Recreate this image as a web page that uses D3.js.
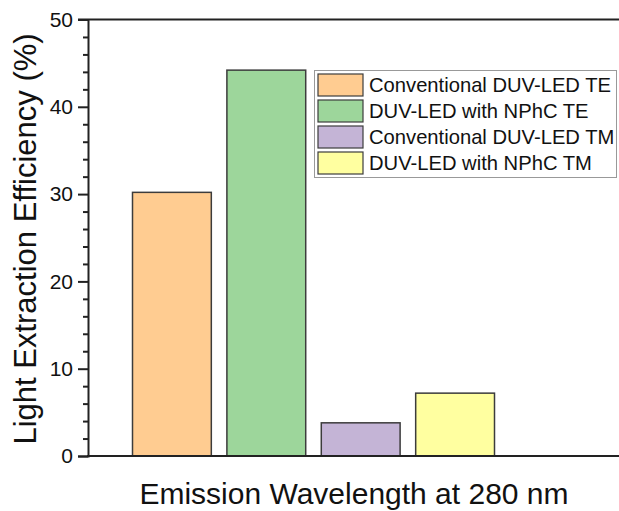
<!DOCTYPE html>
<html>
<head>
<meta charset="utf-8">
<script src="https://cdn.jsdelivr.net/npm/d3@7/dist/d3.min.js"></script>
<style>
  body { margin: 0; background: #fff; }
  svg { display: block; font-family: "Liberation Sans", Arial, sans-serif; }
</style>
</head>
<body>
<svg id="chart"></svg>
<script>
"use strict";

// data
const seriesNames = [
  "Conventional DUV-LED TE",
  "DUV-LED with NPhC TE",
  "Conventional DUV-LED TM",
  "DUV-LED with NPhC TM"
];
const seriesValues = [30.2, 44.2, 3.8, 7.2];
const seriesColors = ["#ffcc91", "#9dd69b", "#c4b4d6", "#ffffa0"];
const yTicks = [0, 10, 20, 30, 40, 50];
const yMinorTicks = d3.range(0, 51, 2).filter(v => v % 10 !== 0);

const svgWidth = 619, svgHeight = 511;
const plotLeft = 88, plotTop = 19.5, plotBottom = 456, plotRight = 619;

const svg = d3.select("#chart")
  .attr("width", svgWidth)
  .attr("height", svgHeight);

svg.append("rect")
  .attr("width", svgWidth).attr("height", svgHeight)
  .attr("fill", "#fff");

// scales
const yScale = d3.scaleLinear().domain([0, 50]).range([plotBottom, plotTop]);
const xScale = d3.scaleBand()
  .domain(seriesNames)
  .range([132.5, 494.5])
  .paddingInner(0.165)
  .paddingOuter(0);

const bars = seriesNames.map((name, i) => ({ name, value: seriesValues[i], color: seriesColors[i] }));

// bars
svg.selectAll("rect.bar")
  .data(bars)
  .enter()
  .append("rect")
  .attr("class", "bar")
  .attr("x", d => xScale(d.name))
  .attr("y", d => yScale(d.value))
  .attr("width", xScale.bandwidth())
  .attr("height", d => yScale(0) - yScale(d.value))
  .attr("fill", d => d.color)
  .attr("stroke", "#3c3c3c")
  .attr("stroke-width", 1.5);

// frame lines: top and bottom
const frame = svg.append("g").attr("stroke", "#222").attr("stroke-width", 2);
frame.append("line").attr("x1", plotLeft - 10).attr("x2", plotRight).attr("y1", plotTop).attr("y2", plotTop);
frame.append("line").attr("x1", plotLeft - 1).attr("x2", plotRight).attr("y1", plotBottom).attr("y2", plotBottom);

// y axis with major + minor ticks
const yAxis = d3.axisLeft(yScale)
  .tickValues(yTicks)
  .tickSize(10)
  .tickPadding(5)
  .tickFormat(d3.format("d"));

const yAxisG = svg.append("g")
  .attr("transform", `translate(${plotLeft},0)`)
  .call(yAxis);
yAxisG.select(".domain").attr("stroke", "#222").attr("stroke-width", 2);
yAxisG.selectAll(".tick line").attr("stroke", "#222").attr("stroke-width", 2);
yAxisG.selectAll(".tick text")
  .attr("font-size", 21)
  .attr("font-family", "Liberation Sans, Arial, sans-serif")
  .attr("fill", "#111");

const yMinor = d3.axisLeft(yScale)
  .tickValues(yMinorTicks)
  .tickSize(5)
  .tickFormat("");
const yMinorG = svg.append("g")
  .attr("transform", `translate(${plotLeft},0)`)
  .call(yMinor);
yMinorG.select(".domain").remove();
yMinorG.selectAll(".tick line").attr("stroke", "#222").attr("stroke-width", 2);

// axis titles
svg.append("text")
  .attr("transform", "rotate(-90)")
  .attr("x", -239)
  .attr("y", 36)
  .attr("text-anchor", "middle")
  .attr("font-size", 31)
  .attr("fill", "#111")
  .text("Light Extraction Efficiency (%)");

svg.append("text")
  .attr("x", 354)
  .attr("y", 504)
  .attr("text-anchor", "middle")
  .attr("font-size", 30)
  .attr("fill", "#111")
  .text("Emission Wavelength at 280 nm");

// legend
const legendG = svg.append("g");
legendG.append("rect")
  .attr("x", 314.5).attr("y", 70.5)
  .attr("width", 302).attr("height", 107)
  .attr("fill", "#fff")
  .attr("stroke", "#999")
  .attr("stroke-width", 1);

const legendRow = legendG.selectAll("g.row")
  .data(bars)
  .enter()
  .append("g")
  .attr("class", "row")
  .attr("transform", (d, i) => `translate(318, ${74 + i * 26})`);

legendRow.append("rect")
  .attr("width", 45).attr("height", 22)
  .attr("fill", d => d.color)
  .attr("stroke", "#3c3c3c")
  .attr("stroke-width", 1.2);

legendRow.append("text")
  .attr("x", 51)
  .attr("y", 18)
  .attr("font-size", 20.2)
  .attr("fill", "#111")
  .text(d => d.name);
</script>
</body>
</html>
